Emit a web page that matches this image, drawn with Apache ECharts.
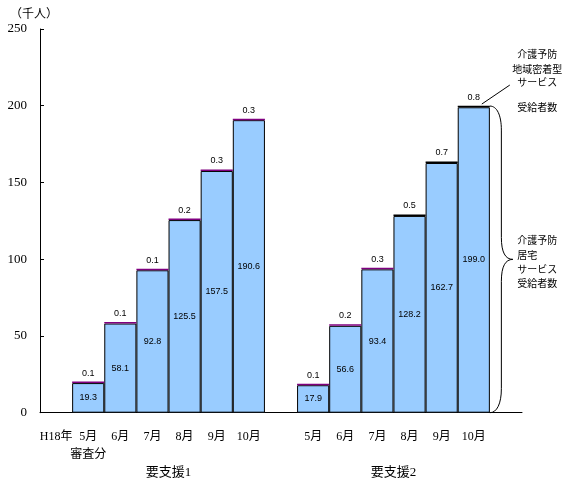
<!DOCTYPE html>
<html>
<head>
<meta charset="utf-8">
<script src="https://cdn.jsdelivr.net/npm/echarts@6/dist/echarts.min.js"></script>
<style>html,body{margin:0;padding:0;background:#fff}#c{width:565px;height:487px}</style>
</head>
<body>
<div id="c"></div>
<script>
const categories = ['H18年','5月\n審査分','6月','7月','8月','9月','10月','','5月','6月','7月','8月','9月','10月',''];
const homeCare = ['-',19.3,58.1,92.8,125.5,157.5,190.6,'-',17.9,56.6,93.4,128.2,162.7,199.0,'-'];
const communityCare = ['-',0.1,0.1,0.1,0.2,0.3,0.3,'-',0.1,0.2,0.3,0.5,0.7,0.8,'-'];
const groupNames = ['要支援1','要支援2'];
const groupRanges = [[1,6],[8,13]];
const unitLabel = '（千人）';
const yMin = 0, yMax = 250, yStep = 50;
const noteUpper = ['介護予防','地域密着型','サービス','受給者数'];
const noteLower = ['介護予防','居宅','サービス','受給者数'];

const CJK = "'Liberation Serif','Noto Sans CJK JP'";
const chart = echarts.init(document.getElementById('c'), null, {renderer:'canvas'});
chart.setOption({
  animation:false,
  backgroundColor:'#fff',
  grid:{left:40,right:43,top:29,bottom:74.3,containLabel:false},
  xAxis:{
    type:'category', data:categories,
    axisLine:{lineStyle:{color:'#000',width:1}},
    axisTick:{show:false},
    axisLabel:{interval:0,color:'#000',fontSize:12,fontFamily:CJK,lineHeight:18,margin:15}
  },
  yAxis:{
    type:'value', min:yMin, max:yMax, interval:yStep,
    axisLine:{show:true,lineStyle:{color:'#000',width:1}},
    axisTick:{show:true,inside:true,length:4,lineStyle:{color:'#000'}},
    splitLine:{show:false},
    axisLabel:{color:'#000',fontSize:13,fontFamily:"'Liberation Serif'",margin:13}
  },
  series:[
    {
      type:'bar', stack:'s', data:homeCare, barWidth:'100%',
      itemStyle:{color:'#99CCFF',borderColor:'#000',borderWidth:1},
      label:{show:true,position:'inside',color:'#000',fontSize:9,fontFamily:"'Liberation Sans Narrow','Liberation Sans'",
        formatter:p=>Number(p.value).toFixed(1)}
    },
    {
      type:'bar', stack:'s', data:communityCare, barWidth:'100%', barMinHeight:1.5,
      itemStyle:{color:p=> (p.value>=0.5 ? '#000000' : '#800080'),borderWidth:0},
      label:{show:true,position:'top',distance:4,color:'#000',fontSize:9,fontFamily:"'Liberation Sans Narrow','Liberation Sans'",
        formatter:p=>Number(p.value).toFixed(1)}
    }
  ]
});

const px = i => chart.convertToPixel({xAxisIndex:0}, i);
const py = v => chart.convertToPixel({yAxisIndex:0}, v);
const half = (px(14)-px(13))/2;
const xr = px(13)+half;
const yTop = py(homeCare[13]+communityCare[13]);
const y0 = py(0);
const mid = (yTop+y0)/2;
const xv = xr+11.5, xt = xr+23;
const S = {stroke:'#000',lineWidth:1,fill:null};
const bz = (x1,y1,c1x,c1y,c2x,c2y,x2,y2)=>({type:'bezierCurve',shape:{x1:x1,y1:y1,cpx1:c1x,cpy1:c1y,cpx2:c2x,cpy2:c2y,x2:x2,y2:y2},style:S});
const ln = (x1,y1,x2,y2)=>({type:'line',shape:{x1:x1,y1:y1,x2:x2,y2:y2},style:S});

const graphics = [
  {type:'text',x:10,y:13,style:{text:unitLabel,fontSize:12,fontFamily:"'Noto Sans CJK JP'",fill:'#000',verticalAlign:'middle'}},
  bz(xr,yTop, xr+7,yTop, xv,yTop+9, xv,yTop+24),
  ln(xv,yTop+24, xv,mid-22),
  bz(xv,mid-22, xv,mid-7, xv+4,mid, xt,mid),
  bz(xt,mid, xv+4,mid, xv,mid+7, xv,mid+22),
  ln(xv,mid+22, xv,y0-24),
  bz(xv,y0-24, xv,y0-9, xr+7,y0, xr,y0),
  ln(px(13)+8,yTop-2, px(13)+36,yTop-21)
];
const upperDy = [-52,-37,-24,1];
noteUpper.forEach((t,i)=>graphics.push({type:'text',x:xr+47.5,y:yTop+upperDy[i],
  style:{text:t,fontSize:10,fontFamily:"'Noto Sans CJK JP'",fill:'#000',align:'center',verticalAlign:'middle'}}));
const lowerDy = [-19,-4,10,24];
noteLower.forEach((t,i)=>graphics.push({type:'text',x:xr+27.5,y:mid+lowerDy[i],
  style:{text:t,fontSize:10,fontFamily:"'Noto Sans CJK JP'",fill:'#000',align:'left',verticalAlign:'middle'}}));
groupNames.forEach((g,i)=>{
  const cx = (px(groupRanges[i][0])+px(groupRanges[i][1]))/2;
  graphics.push({type:'text',x:cx,y:y0+60,style:{text:g,fontSize:13,fontFamily:CJK,fill:'#000',align:'center',verticalAlign:'middle'}});
});
chart.setOption({graphic:graphics});
</script>
</body>
</html>
